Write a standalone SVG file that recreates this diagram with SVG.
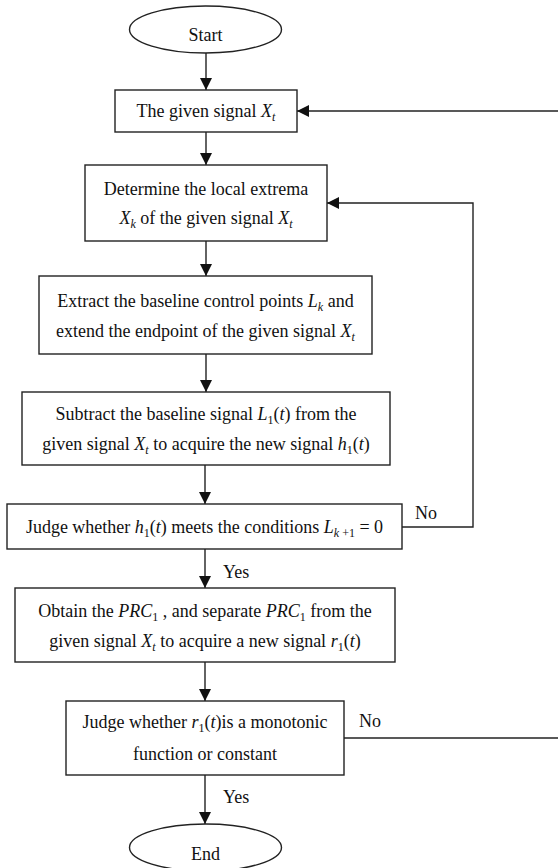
<svg xmlns="http://www.w3.org/2000/svg" width="558" height="868" viewBox="0 0 558 868">
<defs>
<marker id="ah" markerUnits="userSpaceOnUse" markerWidth="12" markerHeight="12" viewBox="0 0 12 12" refX="12" refY="6" orient="auto">
<path d="M0,0 L12,6 L0,12 Z" fill="#111"/>
</marker>
<style>
.b{fill:#fff;stroke:#222;stroke-width:1.4}
.c{fill:none;stroke:#222;stroke-width:1.4}
text{font-family:"Liberation Serif","Times New Roman",serif;font-size:18px;fill:#111}
.m{text-anchor:middle}
.i{font-style:italic}
.s{font-size:12px}
</style>
</defs>
<rect width="558" height="868" fill="#fff"/>

<g id="connectors">
<line class="c" x1="206" y1="53" x2="206" y2="90" marker-end="url(#ah)"/>
<line class="c" x1="206" y1="132" x2="206" y2="165" marker-end="url(#ah)"/>
<line class="c" x1="206" y1="241" x2="206" y2="276" marker-end="url(#ah)"/>
<line class="c" x1="206" y1="354" x2="206" y2="392" marker-end="url(#ah)"/>
<line class="c" x1="205" y1="465" x2="205" y2="504" marker-end="url(#ah)"/>
<line class="c" x1="205" y1="549" x2="205" y2="588" marker-end="url(#ah)"/>
<line class="c" x1="205" y1="662" x2="205" y2="701" marker-end="url(#ah)"/>
<line class="c" x1="205" y1="775" x2="205" y2="824" marker-end="url(#ah)"/>
<polyline class="c" points="402,527 473,527 473,203 327,203" marker-end="url(#ah)"/>
<line class="c" x1="344" y1="738" x2="558" y2="738"/>
<line class="c" x1="558" y1="111" x2="297" y2="111" marker-end="url(#ah)"/>
<text x="415" y="519">No</text>
<text x="223" y="578">Yes</text>
<text x="359" y="727">No</text>
<text x="223" y="803">Yes</text>
</g>

<g id="start">
<ellipse class="b" cx="205.5" cy="29.5" rx="76" ry="23.5"/>
<text class="m" x="205.5" y="41">Start</text>
</g>

<g id="given">
<rect class="b" x="115" y="90" width="182" height="42"/>
<text class="m" x="206" y="117">The given signal <tspan class="i">X</tspan><tspan class="i s" dy="4">t</tspan></text>
</g>

<g id="extrema">
<rect class="b" x="85" y="165" width="242" height="76"/>
<text class="m" x="206" y="195">Determine the local extrema</text>
<text class="m" x="206" y="224"><tspan class="i">X</tspan><tspan class="i s" dy="4">k</tspan><tspan dy="-4"> of the given signal </tspan><tspan class="i">X</tspan><tspan class="i s" dy="4">t</tspan></text>
</g>

<g id="extract">
<rect class="b" x="39" y="276" width="333" height="78"/>
<text class="m" x="205.5" y="307">Extract the baseline control points <tspan class="i">L</tspan><tspan class="i s" dy="4">k</tspan><tspan dy="-4"> and</tspan></text>
<text class="m" x="205.5" y="337">extend the endpoint of the given signal <tspan class="i">X</tspan><tspan class="i s" dy="4">t</tspan></text>
</g>

<g id="subtract">
<rect class="b" x="22" y="392" width="368" height="73"/>
<text class="m" x="206" y="420">Subtract the baseline signal <tspan class="i">L</tspan><tspan class="s" dy="4">1</tspan><tspan dy="-4">(</tspan><tspan class="i">t</tspan>) from the</text>
<text class="m" x="206" y="450">given signal <tspan class="i">X</tspan><tspan class="i s" dy="4">t</tspan><tspan dy="-4"> to acquire the new signal </tspan><tspan class="i">h</tspan><tspan class="s" dy="4">1</tspan><tspan dy="-4">(</tspan><tspan class="i">t</tspan>)</text>
</g>

<g id="judge1">
<rect class="b" x="7" y="504" width="395" height="45"/>
<text class="m" x="204.5" y="533">Judge whether <tspan class="i">h</tspan><tspan class="s" dy="4">1</tspan><tspan dy="-4">(</tspan><tspan class="i">t</tspan>) meets the conditions <tspan class="i">L</tspan><tspan class="s" dy="4"><tspan class="i">k</tspan> +1</tspan><tspan dy="-4"> = 0</tspan></text>
</g>

<g id="obtain">
<rect class="b" x="15" y="588" width="380" height="74"/>
<text class="m" x="205" y="617">Obtain the <tspan class="i">PRC</tspan><tspan class="s" dy="4">1</tspan><tspan dy="-4"> , and separate </tspan><tspan class="i">PRC</tspan><tspan class="s" dy="4">1</tspan><tspan dy="-4"> from the</tspan></text>
<text class="m" x="205" y="647">given signal <tspan class="i">X</tspan><tspan class="i s" dy="4">t</tspan><tspan dy="-4"> to acquire a new signal </tspan><tspan class="i">r</tspan><tspan class="s" dy="4">1</tspan><tspan dy="-4">(</tspan><tspan class="i">t</tspan>)</text>
</g>

<g id="judge2">
<rect class="b" x="66" y="701" width="278" height="74"/>
<text class="m" x="205" y="728">Judge whether <tspan class="i">r</tspan><tspan class="s" dy="4">1</tspan><tspan dy="-4">(</tspan><tspan class="i">t</tspan>)is a monotonic</text>
<text class="m" x="205" y="760">function or constant</text>
</g>

<g id="end">
<ellipse class="b" cx="205.5" cy="847.5" rx="76" ry="23.5"/>
<text class="m" x="205.5" y="860">End</text>
</g>
</svg>
